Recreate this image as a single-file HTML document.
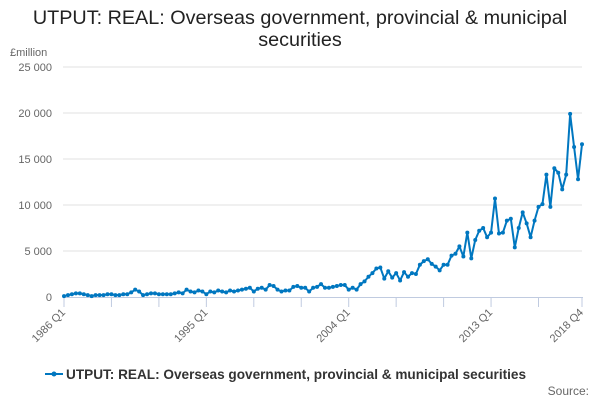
<!DOCTYPE html>
<html><head><meta charset="utf-8"><style>
body{margin:0;background:#fff;font-family:"Liberation Sans",sans-serif;}
svg text{font-family:"Liberation Sans",sans-serif;}
</style></head><body>
<svg width="600" height="400" id="chart">
<text x="300" y="24" text-anchor="middle" font-size="19.8" fill="#222">UTPUT: REAL: Overseas government, provincial &amp; municipal</text>
<text x="300" y="46" text-anchor="middle" font-size="19.8" fill="#222">securities</text>
<text x="10" y="56" font-size="11" fill="#666">£million</text>
<g id="grid"></g><g id="xaxis"></g><g id="series"></g>
<g>
<line x1="45" y1="374" x2="63" y2="374" stroke="#0077c0" stroke-width="2"/>
<circle cx="54" cy="374" r="2.5" fill="#0077c0"/>
<text x="66" y="379" font-size="13.6" font-weight="bold" fill="#333">UTPUT: REAL: Overseas government, provincial &amp; municipal securities</text>
</g>
<text x="589" y="395" text-anchor="end" font-size="12" fill="#666">Source:</text>
</svg>
<script>
const values = [0.1,0.2,0.3,0.4,0.4,0.3,0.2,0.1,0.2,0.2,0.2,0.3,0.3,0.2,0.2,0.3,0.3,0.5,0.8,0.6,0.2,0.3,0.4,0.4,0.3,0.3,0.3,0.3,0.4,0.5,0.4,0.8,0.6,0.5,0.7,0.6,
0.3,0.6,0.5,0.7,0.6,0.5,0.7,0.6,0.7,0.8,0.9,1.0,0.6,0.9,1.0,0.8,1.3,1.2,0.8,0.6,0.7,0.7,1.1,1.2,1.0,1.0,0.6,1.0,1.1,1.4,1.0,1.0,1.1,1.2,1.3,1.3,
0.8,1.0,0.8,1.4,1.7,2.2,2.6,3.1,3.2,2.0,2.8,2.1,2.6,1.8,2.7,2.2,2.6,2.5,3.5,3.9,4.1,3.6,3.3,2.9,3.5,3.5,4.5,4.7,5.5,4.4,7.0,4.2,6.2,7.2,7.5,6.5,
7.0,10.7,6.9,7.0,8.3,8.5,5.4,7.5,9.2,8.0,6.5,8.3,9.8,10.1,13.3,9.8,14.0,13.5,11.7,13.3,19.9,16.3,12.8,16.6].map(v=>v*1000);
const yTicks = [0,5000,10000,15000,20000,25000];
const yTickLabels = ["0","5 000","10 000","15 000","20 000","25 000"];
const xTickIndex = [0,36,72,108,131];
const xTickLabels = ["1986 Q1","1995 Q1","2004 Q1","2013 Q1","2018 Q4"];
const NS="http://www.w3.org/2000/svg";
const x0=64,x1=582,y0=297,y1=67;
const xs=i=>x0+(x1-x0)*i/(values.length-1);
const ys=v=>y0-(y0-y1)*v/25000;
function mk(t,a,p){const e=document.createElementNS(NS,t);for(const k in a)e.setAttribute(k,a[k]);p.appendChild(e);return e;}
const grid=document.getElementById('grid');
yTicks.forEach((t,i)=>{
 if(t>0){const l=mk('line',{x1:63,x2:582,y1:ys(t),y2:ys(t),stroke:'#e0e0e0'},grid);
 
 }
 const tx=mk('text',{x:52,y:ys(t)+4,'text-anchor':'end','font-size':11,fill:'#666'},grid);tx.textContent=yTickLabels[i];
 
 
});
const xa=document.getElementById('xaxis');
const ax=mk('line',{x1:63,x2:583,y1:y0+0.5,y2:y0+0.5,stroke:'#c0cbe0'},xa);


for(let i=0;i<values.length;i+=12){mk('line',{x1:xs(i),x2:xs(i),y1:y0,y2:y0+10,stroke:'#c0cbe0'},xa);}
mk('line',{x1:xs(131),x2:xs(131),y1:y0,y2:y0+10,stroke:'#c0cbe0'},xa);
xTickIndex.forEach((idx,i)=>{
 const x=xs(idx)+2,y=y0+16;
 const tx=mk('text',{x:x,y:y,'text-anchor':'end','font-size':11,fill:'#666',transform:`rotate(-45 ${x} ${y})`},xa);tx.textContent=xTickLabels[i];
 
 
});
const s=document.getElementById('series');
const pl=mk('polyline',{points:values.map((v,i)=>xs(i)+','+ys(v)).join(' '),fill:'none',stroke:'#0077c0','stroke-width':2,'stroke-linejoin':'round'},s);


values.forEach((v,i)=>{const c=mk('circle',{cx:xs(i),cy:ys(v),r:2,fill:'#0077c0'},s);
 
 });
</script>
</body></html>
